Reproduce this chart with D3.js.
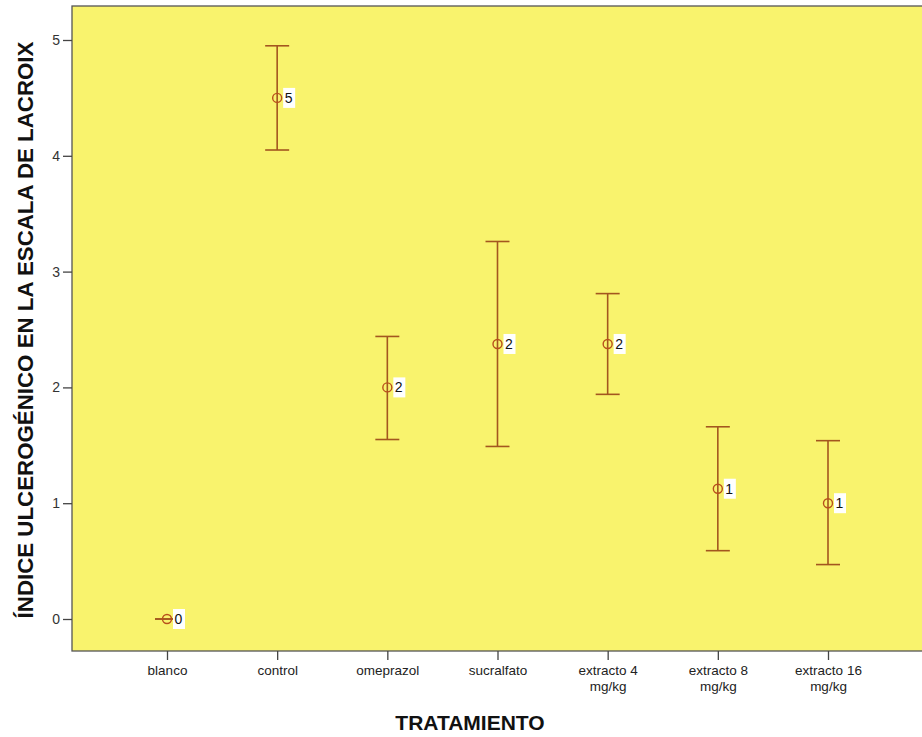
<!DOCTYPE html>
<html>
<head>
<meta charset="utf-8">
<script src="https://cdn.jsdelivr.net/npm/d3@7"></script>
<style>
  body { margin: 0; background: #fff; }
  svg { font-family: Arial, "Liberation Sans", sans-serif; }
</style>
</head>
<body>
<svg id="chart"></svg>
<script>
// Data
const categories = ["blanco", "control", "omeprazol", "sucralfato", "extracto 4\nmg/kg", "extracto 8\nmg/kg", "extracto 16\nmg/kg"];
const means = [0, 4.5, 2.0, 2.375, 2.375, 1.125, 1.0];
const lower = [0, 4.05, 1.55, 1.49, 1.94, 0.59, 0.47];
const upper = [0, 4.95, 2.44, 3.26, 2.81, 1.66, 1.54];
const pointLabels = ["0", "5", "2", "2", "2", "1", "1"];
const yTicks = [0, 1, 2, 3, 4, 5];

const data = categories.map((c, i) => ({ cat: c, mean: means[i], lo: lower[i], hi: upper[i], label: pointLabels[i] }));

// Chart dimensions
const width = 922;
const height = 737;
const plot = { left: 72, top: 6, right: 935, bottom: 651 };

const svg = d3.select("#chart")
    .attr("width", width)
    .attr("height", height);

// Scales
const xScale = d3.scalePoint()
    .domain(categories)
    .range([167, 828]);

const yScale = d3.scaleLinear()
    .domain([0, 5])
    .range([619, 40]);

// Plot background
svg.append("rect")
    .attr("x", plot.left)
    .attr("y", plot.top)
    .attr("width", plot.right - plot.left)
    .attr("height", plot.bottom - plot.top)
    .attr("fill", "#f9f36d")
    .attr("stroke", "#555")
    .attr("stroke-width", 1.3);

// Error bars
const barColor = "#a3561f";
const cap = 12;
const bars = svg.append("g");

bars.selectAll(".stem")
    .data(data)
    .enter()
    .append("line")
    .attr("x1", d => xScale(d.cat))
    .attr("x2", d => xScale(d.cat))
    .attr("y1", d => yScale(d.hi))
    .attr("y2", d => yScale(d.lo))
    .attr("stroke", barColor)
    .attr("stroke-width", 1.6);

bars.selectAll(".capHi")
    .data(data)
    .enter()
    .append("line")
    .attr("x1", d => xScale(d.cat) - cap)
    .attr("x2", d => xScale(d.cat) + cap)
    .attr("y1", d => yScale(d.hi))
    .attr("y2", d => yScale(d.hi))
    .attr("stroke", barColor)
    .attr("stroke-width", 1.6);

bars.selectAll(".capLo")
    .data(data)
    .enter()
    .append("line")
    .attr("x1", d => xScale(d.cat) - cap)
    .attr("x2", d => xScale(d.cat) + cap)
    .attr("y1", d => yScale(d.lo))
    .attr("y2", d => yScale(d.lo))
    .attr("stroke", barColor)
    .attr("stroke-width", 1.6);

// Mean markers
bars.selectAll(".dot")
    .data(data)
    .enter()
    .append("circle")
    .attr("cx", d => xScale(d.cat))
    .attr("cy", d => yScale(d.mean))
    .attr("r", 4.5)
    .attr("fill", "none")
    .attr("stroke", "#b8501c")
    .attr("stroke-width", 1.4);

// Value labels with white boxes
const labels = bars.selectAll(".lab")
    .data(data)
    .enter()
    .append("g")
    .attr("transform", d => `translate(${xScale(d.cat) + 6}, ${yScale(d.mean)})`);

labels.append("rect")
    .attr("x", 0)
    .attr("y", -10)
    .attr("width", 12)
    .attr("height", 20)
    .attr("fill", "#fff");

labels.append("text")
    .attr("x", 1.5)
    .attr("y", 5)
    .attr("font-size", 14)
    .attr("fill", "#111")
    .text(d => d.label);

// Y axis
const yAxis = svg.append("g")
    .attr("transform", `translate(${plot.left}, 0)`)
    .call(d3.axisLeft(yScale).tickValues(yTicks).tickFormat(d3.format("d")).tickSize(9).tickPadding(3));
yAxis.select(".domain").remove();
yAxis.selectAll("line").attr("stroke", "#444").attr("stroke-width", 1.3);
yAxis.selectAll("text").attr("font-size", 14).attr("fill", "#333").attr("font-family", "Arial, 'Liberation Sans', sans-serif");

// X axis
const xAxis = svg.append("g")
    .attr("transform", `translate(0, ${plot.bottom})`)
    .call(d3.axisBottom(xScale).tickSize(9).tickFormat(""));
xAxis.select(".domain").remove();
xAxis.selectAll("line").attr("stroke", "#444").attr("stroke-width", 1.3);

// two-line labels as separate texts so the lines do not collide
xAxis.selectAll(".tick").each(function(d) {
    const lines = d.split("\n");
    d3.select(this).selectAll(".lbl")
        .data(lines)
        .enter()
        .append("text")
        .attr("x", 0)
        .attr("y", (t, i) => 24 + i * 15.5)
        .attr("text-anchor", "middle")
        .attr("fill", "#222")
        .attr("font-size", 13.5)
        .attr("font-family", "Arial, 'Liberation Sans', sans-serif")
        .text(t => t);
});

// Axis titles
svg.append("text")
    .attr("x", 470)
    .attr("y", 730)
    .attr("text-anchor", "middle")
    .attr("font-size", 21)
    .attr("font-weight", "bold")
    .attr("fill", "#111")
    .text("TRATAMIENTO");

svg.append("text")
    .attr("transform", "rotate(-90)")
    .attr("x", -330)
    .attr("y", 33)
    .attr("text-anchor", "middle")
    .attr("font-size", 22.3)
    .attr("font-weight", "bold")
    .attr("fill", "#111")
    .text("ÍNDICE ULCEROGÉNICO EN LA ESCALA DE LACROIX");
</script>
</body>
</html>
